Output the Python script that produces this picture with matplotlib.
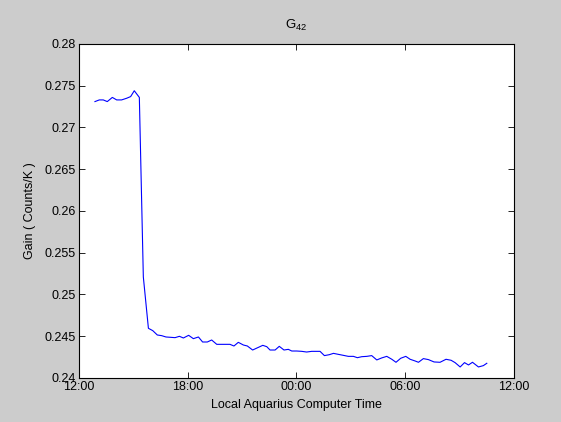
import matplotlib
matplotlib.use("Agg")
import matplotlib.pyplot as plt

plt.rcParams['font.family'] = ['Liberation Sans', 'DejaVu Sans']
plt.rcParams['mathtext.fontset'] = 'custom'
plt.rcParams['mathtext.rm'] = 'Liberation Sans'
plt.rcParams['mathtext.it'] = 'Liberation Sans'
plt.rcParams['mathtext.default'] = 'regular'

# hours since 12:00 local time
hours = [0.88, 1.12, 1.34, 1.56, 1.84, 2.08, 2.35, 2.63, 2.85, 3.05, 3.33,
         3.55, 3.83, 4.07, 4.32, 4.56, 4.80, 5.06, 5.30, 5.54, 5.76, 6.05,
         6.31, 6.59, 6.82, 7.08, 7.32, 7.60, 7.87, 8.15, 8.33, 8.55, 8.79,
         9.07, 9.29, 9.58, 9.86, 10.14, 10.36,
         10.54, 10.82, 11.05, 11.31, 11.55, 11.74, 12.01, 12.29, 12.56, 12.84,
         13.30, 13.54, 13.81, 14.04, 14.31, 14.59, 14.86, 15.14, 15.36, 15.60,
         15.88, 16.15, 16.43, 16.70, 16.98, 17.26, 17.49, 17.75, 18.03, 18.27,
         18.54, 18.73, 19.00, 19.28, 19.59, 19.92, 20.25, 20.53, 20.75, 21.03,
         21.27, 21.49, 21.71, 22.04, 22.31, 22.50]
gain = [0.2731, 0.2733, 0.2733, 0.2731, 0.2736, 0.2733, 0.2733, 0.2735, 0.2737,
        0.2744, 0.2736,
        0.2521, 0.24595, 0.24567, 0.24515, 0.24507, 0.24491, 0.24487, 0.24483,
        0.24499, 0.24479, 0.24511, 0.24471, 0.24491, 0.24431, 0.24431, 0.24455,
        0.24403, 0.24403, 0.24403, 0.24403, 0.24383, 0.24427, 0.24395, 0.24383,
        0.24335, 0.24363, 0.24391, 0.24375,
        0.24335, 0.24335, 0.24379, 0.24335, 0.24343, 0.24323, 0.24323, 0.24319,
        0.24311, 0.24319, 0.24319, 0.24268, 0.24279, 0.24295, 0.24283, 0.24271,
        0.24259, 0.24259, 0.24243, 0.24255, 0.24259, 0.24268, 0.24216, 0.24240,
        0.24259, 0.24224, 0.24188, 0.24236, 0.24259, 0.24224, 0.24204, 0.24188,
        0.24232, 0.24220, 0.24192, 0.24188, 0.24224, 0.24212, 0.24184, 0.24132,
        0.24184, 0.24156, 0.24188, 0.24132, 0.24148, 0.24176]

x_ticks = [0, 6, 12, 18, 24]
x_ticklabels = ['12:00', '18:00', '00:00', '06:00', '12:00']
y_ticks = [0.24, 0.245, 0.25, 0.255, 0.26, 0.265, 0.27, 0.275, 0.28]
y_ticklabels = ['0.24', '0.245', '0.25', '0.255', '0.26', '0.265', '0.27', '0.275', '0.28']

fig = plt.figure(figsize=(5.61, 4.22), dpi=100, facecolor='#cccccc')
ax = fig.add_axes([0.1408, 0.1043, 0.7754, 0.7915])
ax.set_facecolor('white')
ax.plot(hours, gain, color='#0000ff', linewidth=0.8)

ax.set_xlim(0, 24)
ax.set_ylim(0.24, 0.28)
ax.set_xticks(x_ticks)
ax.set_xticklabels(x_ticklabels)
ax.set_yticks(y_ticks)
ax.set_yticklabels(y_ticklabels)
ax.tick_params(direction='in', length=4, width=0.6, top=True, right=True,
               labelsize=9, colors='black', pad=2.5)
for s in ax.spines.values():
    s.set_linewidth(0.8)
    s.set_color('black')

ax.set_title('G$_{42}$', fontsize=9.5, pad=11)
ax.set_xlabel('Local Aquarius Computer Time', fontsize=9, labelpad=4)
ax.set_ylabel('Gain ( Counts/K )', fontsize=9, labelpad=6)

fig.savefig('out.png', dpi=100, facecolor=fig.get_facecolor())
